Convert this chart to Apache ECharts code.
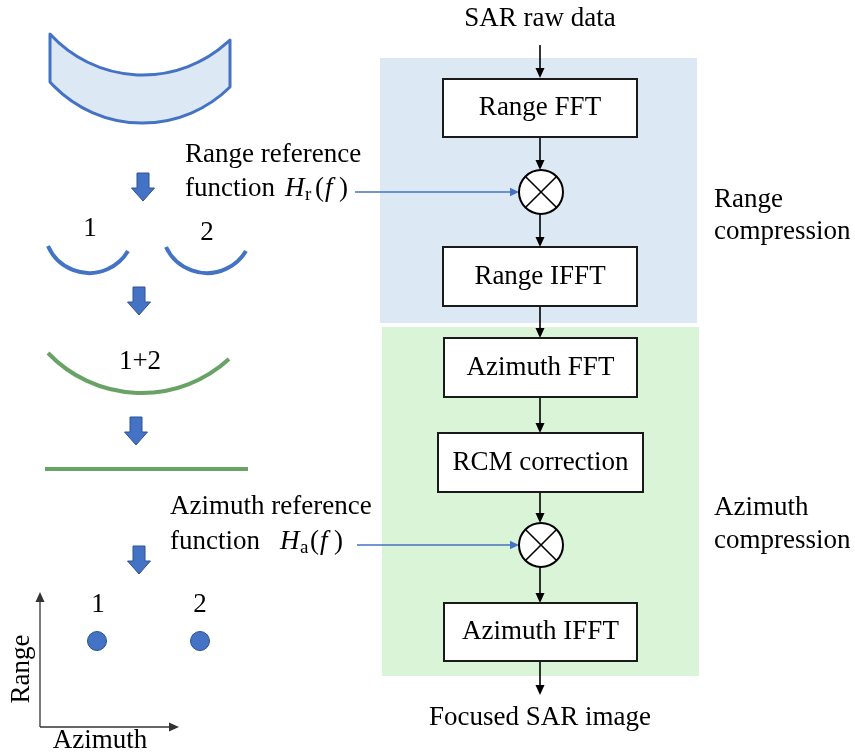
<!DOCTYPE html>
<html>
<head>
<meta charset="utf-8">
<title>SAR range-Doppler processing</title>
<script src="https://cdn.jsdelivr.net/npm/echarts@6/dist/echarts.min.js"></script>
<style>
  html, body { margin: 0; padding: 0; background: #fff; }
  #chart { width: 855px; height: 753px; }
</style>
</head>
<body>
<div id="chart"></div>
<script>
// diagram units: the hidden axes run 0..855 across and 0..753 down

// flow chart (right half)
const stageRegions = [[380, 58, 697, 323], [382, 327, 699, 676]];
const stageBoxes = [
  ['Range FFT', 443, 79, 637, 137],
  ['Range IFFT', 443, 247, 637, 306],
  ['Azimuth FFT', 444, 338, 637, 397],
  ['RCM correction', 438, 433, 643, 492],
  ['Azimuth IFFT', 444, 603, 637, 661]
];
const mixers = [[541, 192, 22], [541, 545, 22]];
const flowArrows = [
  [540, 45, 540, 78],
  [540, 137, 540, 170],
  [540, 214, 540, 247],
  [540, 306, 540, 338],
  [540, 397, 540, 433],
  [540, 492, 540, 523],
  [540, 567, 540, 603],
  [540, 661, 540, 695]
];
const refArrows = [[355, 192, 519, 192], [357, 545, 519, 545]];

// echo sketches (left half): each curve is start, lowest point, end
const rawEchoTop = [[50, 34], [140, 75], [230, 40]];
const rawEchoBottom = [[50, 82], [140, 123], [230, 87]];
const echoArcs = [
  [[48, 246], [88, 273], [128, 251]],
  [[166, 247], [206, 273], [246, 251]]
];
const sumArcs = [[[48, 353], [139, 393], [229, 359]]];
const focusLines = [[45, 469, 248, 469]];
const stepArrows = [[143, 173], [139, 287], [136, 417], [139, 546]];
const targetPoints = [[97, 641], [200, 641]];
const sketchAxes = [[40, 727, 40, 592], [40, 727, 179, 727]];

// text
const captions = [
  ['SAR raw data', 540, 19, 'center'],
  ['Focused SAR image', 540, 718, 'center'],
  ['Range reference', 185, 155, 'left'],
  ['function', 185, 189, 'left'],
  ['Azimuth reference', 170, 507, 'left'],
  ['function', 170, 542, 'left'],
  ['Range', 714, 200, 'left'],
  ['compression', 714, 232, 'left'],
  ['Azimuth', 714, 508, 'left'],
  ['compression', 714, 541, 'left'],
  ['1', 90, 229, 'center'],
  ['2', 207, 233, 'center'],
  ['1+2', 140, 362, 'center'],
  ['1', 98, 605, 'center'],
  ['2', 200, 605, 'center'],
  ['Azimuth', 100, 741, 'center']
];
const verticalCaptions = [['Range', 22, 669]];
const refFunctions = [['r', 285, 189], ['a', 280, 542]];

const FONT = '"Liberation Serif", "Times New Roman", serif';
const TEXT = '#000';
const BLUE = '#4472c4';
const BLUE_EDGE = '#2f528f';
const GREEN = '#68a265';
const REGION_FILL = ['#dde8f5', '#daf4d7'];

const chart = echarts.init(document.getElementById('chart'));

function arrowShape(api, x0, y0, x1, y1, color, width, headLen, headHalf) {
  const a = api.coord([x0, y0]);
  const b = api.coord([x1, y1]);
  const dx = b[0] - a[0], dy = b[1] - a[1];
  const len = Math.hypot(dx, dy);
  const ux = dx / len, uy = dy / len;
  const bx = b[0] - ux * headLen, by = b[1] - uy * headLen;
  return {
    type: 'group',
    children: [
      { type: 'line', shape: { x1: a[0], y1: a[1], x2: bx + ux, y2: by + uy },
        style: { stroke: color, lineWidth: width } },
      { type: 'polygon',
        shape: { points: [b, [bx - uy * headHalf, by + ux * headHalf], [bx + uy * headHalf, by - ux * headHalf]] },
        style: { fill: color } }
    ]
  };
}

// radius of the circle through three pixel points
function radius3(p, q, r) {
  const d = 2 * (p[0] * (q[1] - r[1]) + q[0] * (r[1] - p[1]) + r[0] * (p[1] - q[1]));
  const sp = p[0] * p[0] + p[1] * p[1], sq = q[0] * q[0] + q[1] * q[1], sr = r[0] * r[0] + r[1] * r[1];
  const cx = (sp * (q[1] - r[1]) + sq * (r[1] - p[1]) + sr * (p[1] - q[1])) / d;
  const cy = (sp * (r[0] - q[0]) + sq * (p[0] - r[0]) + sr * (q[0] - p[0])) / d;
  return Math.hypot(p[0] - cx, p[1] - cy);
}

function arcPath(api, pts) {
  const p = pts.map(v => api.coord(v));
  const R = radius3(p[0], p[1], p[2]);
  return 'M' + p[0][0] + ' ' + p[0][1] + ' A' + R + ' ' + R + ' 0 0 0 ' + p[2][0] + ' ' + p[2][1];
}

function textEl(text, x, y, align, font, extra) {
  return Object.assign({
    type: 'text', x: x, y: y,
    style: { text: text, fill: TEXT, font: font, align: align, verticalAlign: 'middle' }
  }, extra || {});
}

const option = {
  animation: false,
  backgroundColor: '#fff',
  grid: { left: 0, right: 0, top: 0, bottom: 0 },
  xAxis: { type: 'value', min: 0, max: 855, show: false },
  yAxis: { type: 'value', min: 0, max: 753, inverse: true, show: false },
  series: [
    {
      // shaded processing stages
      type: 'custom', z: 1,
      data: stageRegions,
      renderItem: (params, api) => {
        const a = api.coord([api.value(0), api.value(1)]);
        const b = api.coord([api.value(2), api.value(3)]);
        return { type: 'rect', shape: { x: a[0], y: a[1], width: b[0] - a[0], height: b[1] - a[1] },
          style: { fill: REGION_FILL[params.dataIndex] } };
      }
    },
    {
      type: 'custom', z: 2,
      data: flowArrows,
      renderItem: (params, api) =>
        arrowShape(api, api.value(0), api.value(1), api.value(2), api.value(3), '#000', 1.6, 10, 4.5)
    },
    {
      type: 'custom', z: 2,
      data: refArrows,
      renderItem: (params, api) =>
        arrowShape(api, api.value(0), api.value(1), api.value(2), api.value(3), BLUE, 1.3, 9, 4.2)
    },
    {
      type: 'custom', z: 3,
      data: stageBoxes.map(b => b.slice(1)),
      renderItem: (params, api) => {
        const a = api.coord([api.value(0), api.value(1)]);
        const b = api.coord([api.value(2), api.value(3)]);
        return {
          type: 'group',
          children: [
            { type: 'rect', shape: { x: a[0], y: a[1], width: b[0] - a[0], height: b[1] - a[1] },
              style: { fill: '#fff', stroke: '#1a1a1a', lineWidth: 2 } },
            textEl(stageBoxes[params.dataIndex][0], (a[0] + b[0]) / 2, (a[1] + b[1]) / 2, 'center', '27px ' + FONT)
          ]
        };
      }
    },
    {
      // multipliers
      type: 'custom', z: 3,
      data: mixers,
      renderItem: (params, api) => {
        const c = api.coord([api.value(0), api.value(1)]);
        const r = api.size([api.value(2), 0])[0];
        const k = r * Math.SQRT1_2;
        const ls = { stroke: '#000', lineWidth: 1.6 };
        return {
          type: 'group',
          children: [
            { type: 'circle', shape: { cx: c[0], cy: c[1], r: r }, style: { fill: '#fff', stroke: '#000', lineWidth: 2 } },
            { type: 'line', shape: { x1: c[0] - k, y1: c[1] - k, x2: c[0] + k, y2: c[1] + k }, style: ls },
            { type: 'line', shape: { x1: c[0] - k, y1: c[1] + k, x2: c[0] + k, y2: c[1] - k }, style: ls }
          ]
        };
      }
    },
    {
      // raw echo band
      type: 'custom', z: 3,
      data: [rawEchoTop[1]],
      renderItem: (params, api) => {
        const t = rawEchoTop.map(v => api.coord(v));
        const b = rawEchoBottom.map(v => api.coord(v));
        const rt = radius3(t[0], t[1], t[2]);
        const rb = radius3(b[0], b[1], b[2]);
        const d = 'M' + t[0][0] + ' ' + t[0][1] +
          ' A' + rt + ' ' + rt + ' 0 0 0 ' + t[2][0] + ' ' + t[2][1] +
          ' L' + b[2][0] + ' ' + b[2][1] +
          ' A' + rb + ' ' + rb + ' 0 0 1 ' + b[0][0] + ' ' + b[0][1] + ' Z';
        return { type: 'path', shape: { pathData: d },
          style: { fill: '#dde8f5', stroke: BLUE, lineWidth: 3, lineJoin: 'round' } };
      }
    },
    {
      type: 'custom', z: 3,
      data: echoArcs.map(a => a[1]),
      renderItem: (params, api) => ({
        type: 'path', shape: { pathData: arcPath(api, echoArcs[params.dataIndex]) },
        style: { fill: null, stroke: BLUE, lineWidth: 4 }
      })
    },
    {
      type: 'custom', z: 3,
      data: sumArcs.map(a => a[1]),
      renderItem: (params, api) => ({
        type: 'path', shape: { pathData: arcPath(api, sumArcs[params.dataIndex]) },
        style: { fill: null, stroke: GREEN, lineWidth: 4 }
      })
    },
    {
      type: 'custom', z: 3,
      data: focusLines,
      renderItem: (params, api) => {
        const a = api.coord([api.value(0), api.value(1)]);
        const b = api.coord([api.value(2), api.value(3)]);
        return { type: 'line', shape: { x1: a[0], y1: a[1], x2: b[0], y2: b[1] },
          style: { stroke: GREEN, lineWidth: 4 } };
      }
    },
    {
      // block arrows between sketches
      type: 'custom', z: 3,
      data: stepArrows,
      renderItem: (params, api) => {
        const x = api.value(0), y = api.value(1);
        const pts = [[x - 6, y], [x + 6, y], [x + 6, y + 15], [x + 11.5, y + 15], [x, y + 28],
          [x - 11.5, y + 15], [x - 6, y + 15]].map(v => api.coord(v));
        return { type: 'polygon', shape: { points: pts },
          style: { fill: BLUE, stroke: BLUE_EDGE, lineWidth: 1 } };
      }
    },
    {
      type: 'custom', z: 3,
      data: sketchAxes,
      renderItem: (params, api) =>
        arrowShape(api, api.value(0), api.value(1), api.value(2), api.value(3), '#333', 1.3, 10, 4.5)
    },
    {
      type: 'scatter', z: 4,
      data: targetPoints,
      symbol: 'circle',
      symbolSize: 19,
      itemStyle: { color: BLUE, borderColor: BLUE_EDGE, borderWidth: 1, opacity: 1 },
      silent: true
    },
    {
      type: 'custom', z: 5,
      data: captions.map(c => [c[1], c[2]]),
      renderItem: (params, api) => {
        const c = captions[params.dataIndex];
        const p = api.coord([api.value(0), api.value(1)]);
        return textEl(c[0], p[0], p[1], c[3], '27px ' + FONT);
      }
    },
    {
      type: 'custom', z: 5,
      data: verticalCaptions.map(c => [c[1], c[2]]),
      renderItem: (params, api) => {
        const p = api.coord([api.value(0), api.value(1)]);
        return textEl(verticalCaptions[params.dataIndex][0], 0, 0, 'center', '27px ' + FONT,
          { x: p[0], y: p[1], rotation: Math.PI / 2, style: {
            text: verticalCaptions[params.dataIndex][0], fill: TEXT, font: '27px ' + FONT,
            align: 'center', verticalAlign: 'middle', x: 0, y: 0 } });
      }
    },
    {
      // H_r(f), H_a(f)
      type: 'custom', z: 5,
      data: refFunctions.map(c => [c[1], c[2]]),
      renderItem: (params, api) => {
        const sub = refFunctions[params.dataIndex][0];
        const p = api.coord([api.value(0), api.value(1)]);
        const it = 'italic 27px ' + FONT;
        const up = '27px ' + FONT;
        return {
          type: 'group',
          children: [
            textEl('H', p[0], p[1], 'left', it),
            textEl(sub, p[0] + 20, p[1] + 6, 'left', '19px ' + FONT),
            textEl('(', p[0] + 30, p[1], 'left', up),
            textEl('f', p[0] + 40, p[1], 'left', it),
            textEl(')', p[0] + 54, p[1], 'left', up)
          ]
        };
      }
    }
  ]
};

chart.setOption(option);
</script>
</body>
</html>
